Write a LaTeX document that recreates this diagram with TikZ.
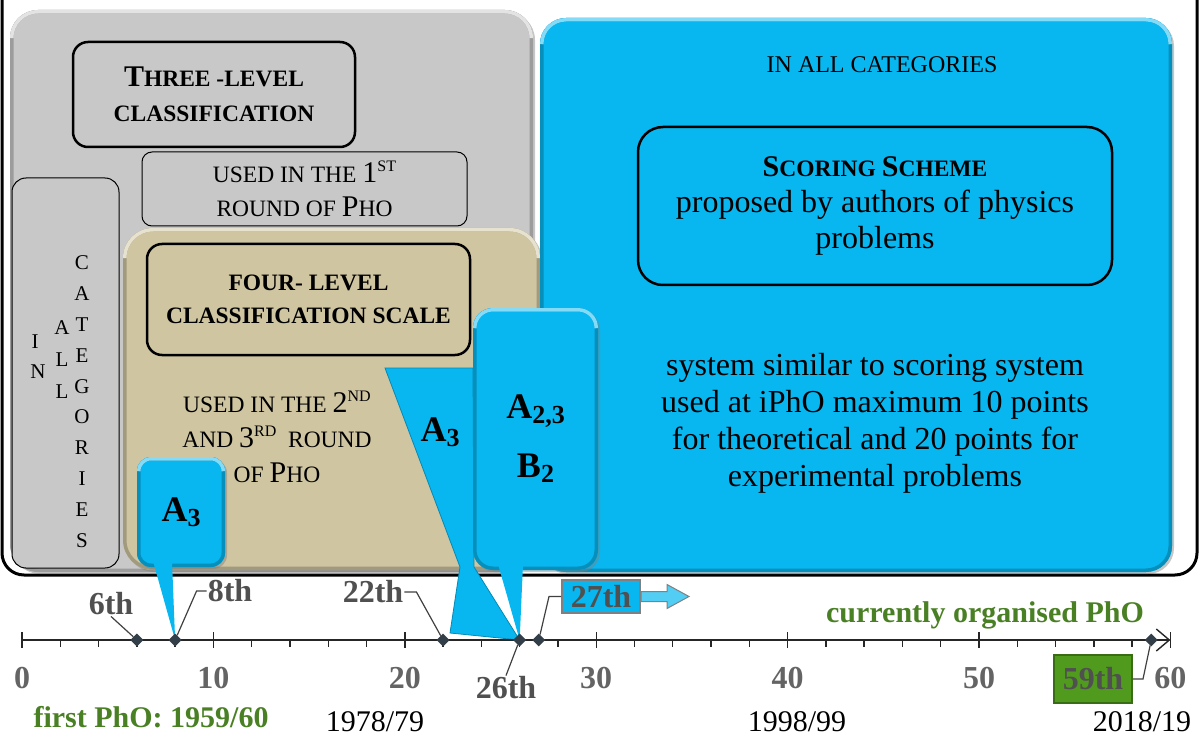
\documentclass[tikz,border=0pt]{standalone}
\usepackage{fontspec}
\setmainfont{Liberation Serif}
\usetikzlibrary{shadows,shapes.geometric,arrows.meta}

\definecolor{panelgray}{RGB}{200,200,200}
\definecolor{panelbeige}{RGB}{207,197,161}
\definecolor{calloutblue}{RGB}{8,183,240}
\definecolor{labelgray}{RGB}{80,80,80}
\definecolor{numgray}{RGB}{100,100,100}
\definecolor{phogreen}{RGB}{74,128,36}
\definecolor{boxgreen}{RGB}{80,155,30}
\definecolor{markslate}{RGB}{50,62,72}

% fake small capitals
\newcommand\capbig[1]{{\fontsize{30}{35}\selectfont #1}}
\newcommand\capsmall[1]{{\fontsize{23.5}{35}\selectfont #1}}
\newcommand\supcap[1]{\raisebox{0.8ex}{\fontsize{16}{16}\selectfont #1}}
\newcommand\subnum[1]{\raisebox{-0.3ex}{\fontsize{26}{26}\selectfont #1}}

\tikzset{
  bevel/.style 2 args={fill=#1, path picture={
    \draw[line width=7pt, #1!78!black, rounded corners=#2]
      (path picture bounding box.south west) rectangle (path picture bounding box.north east);
    \draw[line width=7pt, #1!50!white, rounded corners=#2]
      ([yshift=-#2]path picture bounding box.north west) |- (path picture bounding box.north)
      -| ([yshift=-#2]path picture bounding box.north east);
  }, rounded corners=#2, drop shadow={shadow xshift=2pt,shadow yshift=-2pt,opacity=.45}},
  classbox/.style={draw, line width=2.5pt, rounded corners=15pt, align=center,
    font=\fontsize{30}{35}\selectfont\bfseries},
  thinbox/.style={draw, line width=1pt, align=center, font=\fontsize{30}{34}\selectfont},
  plaintext/.style={align=center, font=\fontsize{30}{35}\selectfont},
  vletter/.style={font=\fontsize{21}{21}\selectfont, inner sep=0pt},
  calloutfill/.style={fill=calloutblue},
  calloutbox/.style={bevel={calloutblue}{#1}, align=center,
    font=\fontsize{36}{59}\selectfont\bfseries},
  labeltext/.style={font=\fontsize{36}{40}\selectfont\bfseries},
  axisline/.style={line width=1.4pt, draw=black!85},
  axisnum/.style={font=\fontsize{32}{32}\selectfont\bfseries, text=numgray},
  evdiamond/.style={shape=diamond, fill=markslate, minimum size=13pt, inner sep=0pt},
  eventlabel/.style={font=\fontsize{32}{32}\selectfont\bfseries, text=labelgray, inner sep=1pt},
  boxlabel/.style={font=\fontsize{32}{32}\selectfont\bfseries, text=labelgray, inner sep=0pt},
  leader/.style={line width=1.2pt, draw=black!75},
  greenlabel/.style={font=\fontsize{30}{30}\selectfont\bfseries, text=phogreen},
  yearlabel/.style={font=\fontsize{30}{30}\selectfont},
}

\begin{document}
\begin{tikzpicture}[x=1pt,y=-1pt]
\useasboundingbox (0,0) rectangle (1200,738);
\clip (0,0) rectangle (1200,738);

% outer frame
\draw[line width=3pt, rounded corners=22pt] (2,-40) rectangle (1197,575);

% three-level panel
\node[bevel={panelgray}{28pt}, minimum width=523pt, minimum height=562pt] (graypanel) at (271.5,291) {};
\node[draw, fill=panelgray, line width=1pt, rounded corners=14pt, minimum width=107pt, minimum height=390pt] (allcat) at (65.5,373) {};
\foreach \ch [count=\i] in {C,A,T,E,G,O,R,I,E,S}
  \node[vletter] (cat\i) at (82,{263+30.8*(\i-1)}) {\ch};
\node[vletter] (all1) at (62,328) {A};
\node[vletter] (all2) at (62,360) {L};
\node[vletter] (all3) at (62,392) {L};
\node[vletter] (in1) at (35,342) {I};
\node[vletter] (in2) at (38,372) {N};
\node[classbox, minimum width=282pt, minimum height=105pt] (threelevel) at (214,94.5)
  {\capbig{T}\capsmall{HREE -LEVEL}\\\capsmall{CLASSIFICATION}};
\node[thinbox, rounded corners=10pt, minimum width=325pt, minimum height=74pt] (usedfirst) at (304.5,189)
  {\capsmall{USED IN THE }\capbig{1}\supcap{ST}\\\capsmall{ROUND OF }\capbig{P}\capsmall{HO}};

% four-level panel
\node[bevel={panelbeige}{30pt}, minimum width=417pt, minimum height=342pt] (beigepanel) at (331.5,399) {};
\node[classbox, minimum width=323pt, minimum height=111pt, font=\fontsize{30}{33}\selectfont\bfseries] (fourlevel) at (308.5,299.5)
  {\capsmall{FOUR- LEVEL}\\\capsmall{CLASSIFICATION SCALE}};
\node[plaintext] (usedsecond) at (277,437)
  {\capsmall{USED IN THE }\capbig{2}\supcap{ND}\\\capsmall{AND }\capbig{3}\supcap{RD}\capsmall{\ \ ROUND}\\\capsmall{OF }\capbig{P}\capsmall{HO}};

% scoring panel
\node[bevel={calloutblue}{26pt}, minimum width=632pt, minimum height=554pt] (bluepanel) at (856,295) {};
\node[font=\fontsize{24}{28}\selectfont] (allcatright) at (882,65) {IN ALL CATEGORIES};
\node[classbox, rounded corners=25pt, minimum width=474pt, minimum height=158pt, font=\fontsize{32}{36}\selectfont] (scoring) at (875,206)
  {\textbf{\capbig{S}\capsmall{CORING }\capbig{S}\capsmall{CHEME}}\\proposed by authors of physics\\problems};
\node[plaintext, font=\fontsize{32}{37}\selectfont] (similar) at (875,423)
  {system similar to scoring system\\used at iPhO maximum 10 points\\for theoretical and 20 points for\\experimental problems};

% event positions on the axis
\begin{scope}[shift={(22,640)}, x=19.14pt]
  \foreach \v in {6,8,22,26,27,59}
    \coordinate (p\v) at (\v,0);
\end{scope}

% callouts
\node[calloutbox=14pt, minimum width=88pt, minimum height=110pt] (aleft) at (181,512) {A\subnum{3}};
\fill[calloutfill] (153,561) -- (172,561) -- (p8) -- cycle;
\filldraw[calloutfill, draw=calloutblue!75!black, line width=.8pt] (385,368) -- (473,368) -- (474,567) -- (p26) -- (450,633) -- (460,567) -- cycle;
\node[labeltext] (amid) at (440,432) {A\subnum{3}};
\node[calloutbox=20pt, minimum width=125pt, minimum height=262pt] (aright) at (535.5,439)
  {A\subnum{2,3}\\B\subnum{2}};
\fill[calloutfill] (498,564) -- (523,564) -- (p26) -- cycle;

% time axis
\begin{scope}[shift={(22,640)}, x=19.14pt]
  \draw[axisline, -{Straight Barb[length=13pt,width=22pt]}] (0,0) -- (60,0);
  \foreach \v in {2,4,...,58}
    \draw[axisline] (\v,0) -- (\v,7);
  \foreach \v in {0,10,...,60} {
    \draw[axisline] (\v,-8) -- (\v,8);
    \node[axisnum] (num\v) at (\v,38) {\v};
  }
\end{scope}
\foreach \v in {6,8,22,26,27,59}
  \node[evdiamond] (m\v) at (p\v) {};

\node[eventlabel] (l6) at (111,604) {6th};
\node[eventlabel] (l8) at (230,591) {8th};
\node[eventlabel] (l22) at (373,592) {22th};
\node[eventlabel] (l26) at (506,688) {26th};
\draw[leader] (l6.south) -- (m6);
\draw[leader] (l8.west) -- ++(-10pt,0pt) -- (m8);
\draw[leader] (l22.east) -- ++(12pt,0pt) -- (m22);
\draw[leader] (l26.north) -- (m26);

\node[boxlabel, fill=calloutblue, draw=gray, line width=2pt, minimum width=78pt, minimum height=33pt] (b27) at (601,596.5) {27th};
\filldraw[fill=calloutblue!70!white, draw=gray, line width=1pt] ([yshift=5pt]b27.east) -- ++(26pt,0pt) -- ++(0pt,7pt)
  -- ++(22pt,-12pt) -- ++(-22pt,-12pt) -- ++(0pt,7pt) -- ++(-26pt,0pt) -- cycle;
\draw[leader] (b27.west) -- ++(-12pt,0pt) -- (m27);

\node[boxlabel, fill=boxgreen, draw=boxgreen!70!black, line width=2pt, minimum width=78pt, minimum height=48pt] (b59) at (1093,679) {59th};
\draw[leader] (b59.east) -- ++(10pt,0pt) -- (m59);

\node[greenlabel] (current) at (985,615) {currently organised PhO};
\node[greenlabel] (first) at (151,717) {first PhO: 1959/60};
\node[yearlabel] (year20) at (375,722) {1978/79};
\node[yearlabel] (year40) at (797,722) {1998/99};
\node[yearlabel] (year60) at (1142,722) {2018/19};
\end{tikzpicture}
\end{document}
